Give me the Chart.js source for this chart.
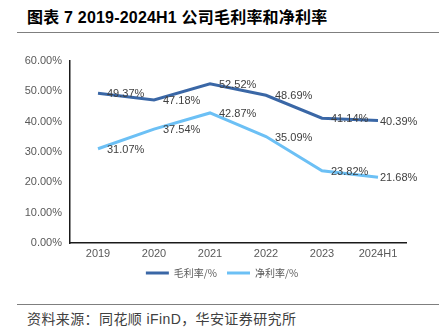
<!DOCTYPE html>
<html>
<head>
<meta charset="utf-8">
<script src="https://cdn.jsdelivr.net/npm/chart.js@4/dist/chart.umd.min.js"></script>
<style>
  html, body { margin: 0; padding: 0; background: #fff; }
  body { width: 439px; height: 332px; position: relative; overflow: hidden; font-family: "Liberation Sans", "Noto Sans CJK SC", sans-serif; }
  #title { position: absolute; left: 27px; top: 4px; font-size: 16px; font-weight: bold; color: #000; white-space: nowrap; letter-spacing: 0.2px; font-family: "Liberation Sans", "Noto Sans CJK SC", sans-serif; }
  .rule { position: absolute; left: 17px; right: 0; height: 0; border-top: 1.5px solid #7f7f7f; }
  #source { position: absolute; left: 27px; top: 308px; font-size: 14px; color: #404040; white-space: nowrap; letter-spacing: 0.4px; font-family: "Liberation Sans", "Noto Sans CJK SC", sans-serif; }
  #wrap { position: absolute; left: 0; top: 0; width: 439px; height: 300px; }
</style>
</head>
<body>
<div id="title">图表 7 2019-2024H1 公司毛利率和净利率</div>
<div class="rule" style="top:32px"></div>
<div id="wrap"><canvas id="c"></canvas></div>
<div class="rule" style="top:304px"></div>
<div id="source">资料来源：同花顺 iFinD，华安证券研究所</div>
<script>
const categories = ["2019", "2020", "2021", "2022", "2023", "2024H1"];
const grossMargin = [49.37, 47.18, 52.52, 48.69, 41.14, 40.39];
const netMargin = [31.07, 37.54, 42.87, 35.09, 23.82, 21.68];
const seriesNames = ["毛利率/%", "净利率/%"];
const yTicks = [0, 10, 20, 30, 40, 50, 60];

const labelPlugin = {
  id: 'pointLabels',
  afterDatasetsDraw(chart) {
    const ctx = chart.ctx;
    ctx.save();
    ctx.font = '11px "Liberation Sans", Arial, sans-serif';
    ctx.fillStyle = '#404040';
    ctx.textAlign = 'left';
    ctx.textBaseline = 'middle';
    chart.data.datasets.forEach((ds, di) => {
      const meta = chart.getDatasetMeta(di);
      meta.data.forEach((pt, i) => {
        const off = (i === meta.data.length - 1) ? 2 : 9;
        ctx.fillText(ds.data[i].toFixed(2) + '%', pt.x + off, pt.y + 1);
      });
    });
    ctx.restore();
  }
};

const legendShift = {
  id: 'legendShift',
  afterLayout(chart) {
    const lg = chart.legend;
    if (!lg) return;
    const d = 222 - (lg.left + lg.right) / 2;
    lg.left += d;
    lg.right += d;
  }
};

new Chart(document.getElementById('c'), {
  type: 'line',
  data: {
    labels: categories,
    datasets: [
      { label: seriesNames[0], data: grossMargin, borderColor: '#3a67a6', backgroundColor: '#3a67a6', borderWidth: 3, pointRadius: 0, tension: 0 },
      { label: seriesNames[1], data: netMargin, borderColor: '#6cc0f5', backgroundColor: '#6cc0f5', borderWidth: 3, pointRadius: 0, tension: 0 }
    ]
  },
  options: {
    responsive: true,
    maintainAspectRatio: false,
    animation: false,
    devicePixelRatio: 1,
    layout: { padding: { top: 61, right: 33, left: 0, bottom: 12 } },
    plugins: {
      tooltip: { enabled: false },
      legend: {
        position: 'bottom',
        labels: {
          usePointStyle: true,
          pointStyle: 'line',
          pointStyleWidth: 23,
          color: '#595959',
          font: { size: 10, family: '"Noto Sans CJK SC", sans-serif' },
          padding: 10
        }
      }
    },
    scales: {
      x: {
        offset: true,
        grid: { display: false, drawTicks: false },
        border: { display: true, color: '#1a1a1a', width: 1.5 },
        ticks: { color: '#595959', font: { size: 11, family: '"Liberation Sans", Arial, sans-serif' }, padding: 4, maxRotation: 0 },
        afterFit(scale) { scale.height = 15; }
      },
      y: {
        min: 0, max: 60,
        grid: { display: false, drawTicks: false },
        border: { display: true, color: '#1a1a1a', width: 1.5 },
        afterBuildTicks(scale) { scale.ticks = yTicks.map(v => ({ value: v })); },
        ticks: { color: '#595959', font: { size: 11, family: '"Liberation Sans", Arial, sans-serif' }, padding: 8, callback: v => Number(v).toFixed(2) + '%' },
        afterFit(scale) { scale.width = 70; }
      }
    }
  },
  plugins: [labelPlugin, legendShift]
});
</script>
</body>
</html>
